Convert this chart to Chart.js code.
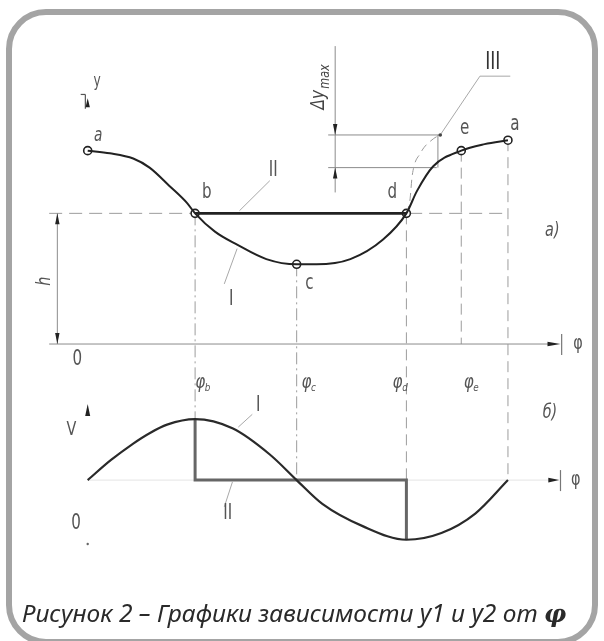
<!DOCTYPE html>
<html>
<head>
<meta charset="utf-8">
<script src="https://cdn.jsdelivr.net/npm/chart.js@4.4.0/dist/chart.umd.min.js"></script>
<style>
  html, body { margin: 0; padding: 0; background: #fff; width: 604px; height: 641px; overflow: hidden; position: relative; }
  #frame { position: absolute; left: 6px; top: 9px; width: 592px; height: 636px; box-sizing: border-box;
           border: 6px solid #a4a4a4; border-radius: 40px; }
  #plot { position: absolute; left: 0; top: 0; }
  #caption { position: absolute; left: 22px; top: 596px; font: italic 24.5px "Noto Sans"; color: #2a2a2a; white-space: nowrap; }
  #caption b { font-family: "DejaVu Serif"; font-style: italic; }
</style>
</head>
<body>
<div id="frame"></div>
<canvas id="plot" width="604" height="641"></canvas>
<div id="caption">Рисунок 2 – Графики зависимости y1 и y2 от <b>φ</b></div>
<script>
// a) displacement y(φ): curve I read off the drawing
const phiTop = [0, 19, 39, 53, 70, 85, 92, 109, 128, 153, 179, 196, 225, 253, 273, 282, 296, 320, 340, 360];
const yTop   = [148, 146, 142, 135, 121, 108, 100, 86, 76, 65, 61, 61, 65, 80, 100, 117, 136, 148, 153, 156];

// marked points a, b, c, d, e, a
const keyNames = ['a', 'b', 'c', 'd', 'e', 'a'];
const keyPhi   = [0, 92, 179, 273, 320, 360];
const keyY     = [148, 100, 61, 100, 148, 156];
const h = 100;

// curve III (dashed) from d up to the Δy max point
const phiIII = [273, 276, 278, 285, 296, 302];
const yIII   = [100, 110, 129, 146, 157, 160];
const yDeltaTop = 160;
const yDeltaBottom = 135;

// б) velocity V(φ): curve I and step line II
const phiV = [0, 20, 39, 53, 68, 92, 124, 156, 179, 201, 236, 273, 303, 332, 360];
const vI   = [0, 0.33, 0.6, 0.77, 0.91, 1.0, 0.85, 0.42, 0, -0.39, -0.76, -0.98, -0.87, -0.55, 0];
const phiII = [92, 92, 273, 273];
const vII   = [1.0, 0, 0, -0.98];

const pts = (xs, ys) => xs.map((x, i) => ({ x: x, y: ys[i] }));

const labelFont = '"DejaVu Sans", sans-serif';
const ink = '#222';
const guide = '#9c9c9c';
const textCol = '#555';

function arrowHead(ctx, x, y, ang, len, half) {
  // tip at (x, y), pointing along angle ang
  ctx.save();
  ctx.translate(x, y);
  ctx.rotate(ang);
  ctx.beginPath();
  ctx.moveTo(0, 0);
  ctx.lineTo(-len, -half);
  ctx.lineTo(-len, half);
  ctx.closePath();
  ctx.fillStyle = ink;
  ctx.fill();
  ctx.restore();
}

function seg(ctx, x1, y1, x2, y2, color, width, dash) {
  ctx.save();
  ctx.strokeStyle = color;
  ctx.lineWidth = width;
  ctx.setLineDash(dash || []);
  ctx.beginPath();
  ctx.moveTo(x1, y1);
  ctx.lineTo(x2, y2);
  ctx.stroke();
  ctx.restore();
}

// narrow drafting-style lettering: squeeze the glyphs sideways
function text(ctx, s, x, y, size, italic, color) {
  ctx.save();
  ctx.translate(x, y);
  ctx.scale(0.72, 1);
  ctx.font = (italic ? 'italic ' : '') + size + 'px ' + labelFont;
  ctx.fillStyle = color || textCol;
  ctx.textAlign = 'center';
  ctx.textBaseline = 'middle';
  ctx.fillText(s, 0, 0);
  ctx.restore();
}

function phiLabel(ctx, x, y, sub) {
  ctx.save();
  ctx.translate(x, y);
  ctx.scale(0.8, 1);
  ctx.fillStyle = textCol;
  ctx.textBaseline = 'alphabetic';
  ctx.font = 'italic 19px ' + labelFont;
  ctx.fillText('φ', -10, 6);
  ctx.font = 'italic 11px ' + labelFont;
  ctx.fillText(sub, 2, 9);
  ctx.restore();
}

const drawing = {
  id: 'drawing',
  beforeDatasetsDraw(chart) {
    const ctx = chart.ctx;
    const X = v => chart.scales.x.getPixelForValue(v);
    const Y = v => chart.scales.y.getPixelForValue(v);
    const VV = v => chart.scales.v.getPixelForValue(v);
    const dashDot = [12, 4, 2, 4];
    const dash = [11, 6];

    // h level dashed
    seg(ctx, X(-33), Y(h), X(360), Y(h), guide, 1, [13, 7]);

    // vertical projections
    seg(ctx, X(keyPhi[1]), Y(keyY[1]), X(keyPhi[1]), VV(vI[5]), guide, 1, dashDot);
    seg(ctx, X(keyPhi[2]), Y(keyY[2]), X(keyPhi[2]), VV(0), guide, 1, dashDot);
    seg(ctx, X(keyPhi[3]), Y(keyY[3]), X(keyPhi[3]), VV(vII[3]), guide, 1, dash);
    seg(ctx, X(keyPhi[4]), Y(keyY[4]), X(keyPhi[4]), Y(0), guide, 1, dash);
    seg(ctx, X(keyPhi[5]), Y(keyY[5]), X(keyPhi[5]), VV(0), guide, 1, dash);

    // φ axis (top)
    seg(ctx, X(-33), Y(0), X(400), Y(0), '#8c8c8c', 1);
    arrowHead(ctx, X(405), Y(0), 0, 13, 2.3);
    seg(ctx, X(406), Y(0) - 10, X(406), Y(0) + 11, '#777', 1.2);
    // φ axis (bottom), very faint
    seg(ctx, X(0), VV(0), X(400), VV(0), '#e4e4e4', 1);
    arrowHead(ctx, X(404), VV(0), 0, 11, 2.3);
    seg(ctx, X(405), VV(0) - 10, X(405), VV(0) + 11, '#777', 1.2);

    // h dimension
    seg(ctx, X(-26), Y(0), X(-26), Y(h), '#8c8c8c', 1);
    arrowHead(ctx, X(-26), Y(h), -Math.PI / 2, 11, 2.2);
    arrowHead(ctx, X(-26), Y(0), Math.PI / 2, 11, 2.2);

    // Δy max dimension
    seg(ctx, X(212), Y(228), X(212), Y(116), '#8c8c8c', 1);
    seg(ctx, X(206), Y(yDeltaTop), X(302), Y(yDeltaTop), '#8c8c8c', 1);
    seg(ctx, X(206), Y(yDeltaBottom), X(299), Y(yDeltaBottom), '#8c8c8c', 1);
    seg(ctx, X(300), Y(yDeltaTop), X(300), Y(yDeltaBottom), '#8c8c8c', 1);
    arrowHead(ctx, X(212), Y(yDeltaTop), Math.PI / 2, 11, 2.2);
    arrowHead(ctx, X(212), Y(yDeltaBottom), -Math.PI / 2, 11, 2.2);
    // leader III
    ctx.save();
    ctx.strokeStyle = '#a8a8a8';
    ctx.lineWidth = 1;
    ctx.beginPath();
    ctx.moveTo(X(302), Y(yDeltaTop));
    ctx.lineTo(X(336), Y(205));
    ctx.lineTo(X(362), Y(205));
    ctx.stroke();
    ctx.restore();
    ctx.beginPath();
    ctx.arc(X(302), Y(yDeltaTop), 1.8, 0, Math.PI * 2);
    ctx.fillStyle = '#444';
    ctx.fill();

    // leaders I, II
    seg(ctx, X(130), Y(102), X(156), Y(125), '#a8a8a8', 1);
    seg(ctx, X(128), Y(73), X(117), Y(46), '#a8a8a8', 1);
    seg(ctx, X(129), VV(0.87), X(141), VV(1.08), '#a8a8a8', 1);
    seg(ctx, X(124), VV(-0.03), X(117), VV(-0.44), '#a8a8a8', 1);
  },
  afterDatasetsDraw(chart) {
    const ctx = chart.ctx;
    const X = v => chart.scales.x.getPixelForValue(v);
    const Y = v => chart.scales.y.getPixelForValue(v);
    const VV = v => chart.scales.v.getPixelForValue(v);

    // point letters
    text(ctx, keyNames[0], X(9), Y(159), 19, true);
    text(ctx, keyNames[1], X(102), Y(116), 21, false);
    text(ctx, keyNames[2], X(190), Y(46), 21, false);
    text(ctx, keyNames[3], X(261), Y(116), 21, false);
    text(ctx, keyNames[4], X(323), Y(165), 21, false);
    text(ctx, keyNames[5], X(366), Y(168), 21, false);

    text(ctx, 'II', X(159), Y(133), 21, false);
    text(ctx, 'I', X(123), Y(34), 21, false);
    text(ctx, 'III', X(347), Y(215), 24, false, '#333');
    text(ctx, 'a)', X(398), Y(87), 20, true);
    text(ctx, '0', X(-9), Y(-12), 21, false);
    text(ctx, 'φ', X(420), Y(0), 20, false);

    // y axis mark
    seg(ctx, X(-6), Y(191), X(-2), Y(191), '#555', 1.2);
    seg(ctx, X(-2), Y(191), X(-2), Y(180), '#555', 1.2);
    arrowHead(ctx, X(0), Y(188), -Math.PI / 2, 9, 2.2);
    text(ctx, 'y', X(8), Y(201), 17, false);

    // rotated labels
    ctx.save();
    ctx.translate(X(-37), Y(48));
    ctx.rotate(-Math.PI / 2);
    text(ctx, 'h', 0, 0, 20, true);
    ctx.restore();
    ctx.save();
    ctx.translate(X(197), Y(204));
    ctx.rotate(-Math.PI / 2);
    ctx.scale(0.8, 1);
    ctx.fillStyle = '#444';
    ctx.textBaseline = 'alphabetic';
    ctx.font = 'italic 19px ' + labelFont;
    ctx.fillText('Δy', -40, 6);
    ctx.font = 'italic 14px ' + labelFont;
    ctx.fillText('max', -14, 11);
    ctx.restore();

    // φ values
    const phiRow = Y(-29);
    phiLabel(ctx, X(99), phiRow, 'b');
    phiLabel(ctx, X(190), phiRow, 'c');
    phiLabel(ctx, X(268), phiRow, 'd');
    phiLabel(ctx, X(329), phiRow, 'e');

    // bottom plot labels
    arrowHead(ctx, X(0), VV(1.25), -Math.PI / 2, 12, 2.5);
    text(ctx, 'V', X(-14), VV(0.82), 20, false);
    text(ctx, '0', X(-10), VV(-0.71), 21, false);
    ctx.beginPath();
    ctx.arc(X(0), VV(-1.05), 1.2, 0, Math.PI * 2);
    ctx.fillStyle = '#666';
    ctx.fill();
    text(ctx, 'б)', X(396), VV(1.1), 20, true);
    text(ctx, 'I', X(146), VV(1.22), 21, false);
    text(ctx, 'II', X(120), VV(-0.55), 21, false);
    text(ctx, 'φ', X(418), VV(0), 20, false);
  }
};

new Chart(document.getElementById('plot'), {
  type: 'scatter',
  data: {
    datasets: [
      { label: 'I', data: pts(phiTop, yTop), yAxisID: 'y', showLine: true, borderColor: ink, borderWidth: 2,
        pointRadius: 0, cubicInterpolationMode: 'monotone' },
      { label: 'II', data: pts([keyPhi[1], keyPhi[3]], [h, h]), yAxisID: 'y', showLine: true, borderColor: ink,
        borderWidth: 2.6, pointRadius: 0 },
      { label: 'III', data: pts(phiIII, yIII), yAxisID: 'y', showLine: true, borderColor: '#9a9a9a', borderWidth: 1,
        borderDash: [8, 5], pointRadius: 0, cubicInterpolationMode: 'monotone' },
      { label: 'points', data: pts(keyPhi, keyY), yAxisID: 'y', showLine: false, pointRadius: 4,
        pointBackgroundColor: '#fff', pointBorderColor: ink, pointBorderWidth: 1.6 },
      { label: 'V I', data: pts(phiV, vI), yAxisID: 'v', showLine: true, borderColor: '#2a2a2a', borderWidth: 2.2,
        pointRadius: 0, cubicInterpolationMode: 'monotone' },
      { label: 'V II', data: pts(phiII, vII), yAxisID: 'v', showLine: true, borderColor: '#666', borderWidth: 3,
        pointRadius: 0, tension: 0 }
    ]
  },
  options: {
    responsive: false,
    devicePixelRatio: 1,
    animation: false,
    layout: { padding: { left: 41, right: 26, top: 0, bottom: 0 } },
    scales: {
      x: { type: 'linear', min: -40, max: 420, display: false },
      y: { type: 'linear', min: -223, max: 259, display: false },
      v: { type: 'linear', min: -2.55, max: 7.79, display: false }
    },
    plugins: { legend: { display: false }, tooltip: { enabled: false } }
  },
  plugins: [drawing]
});
</script>
</body>
</html>
